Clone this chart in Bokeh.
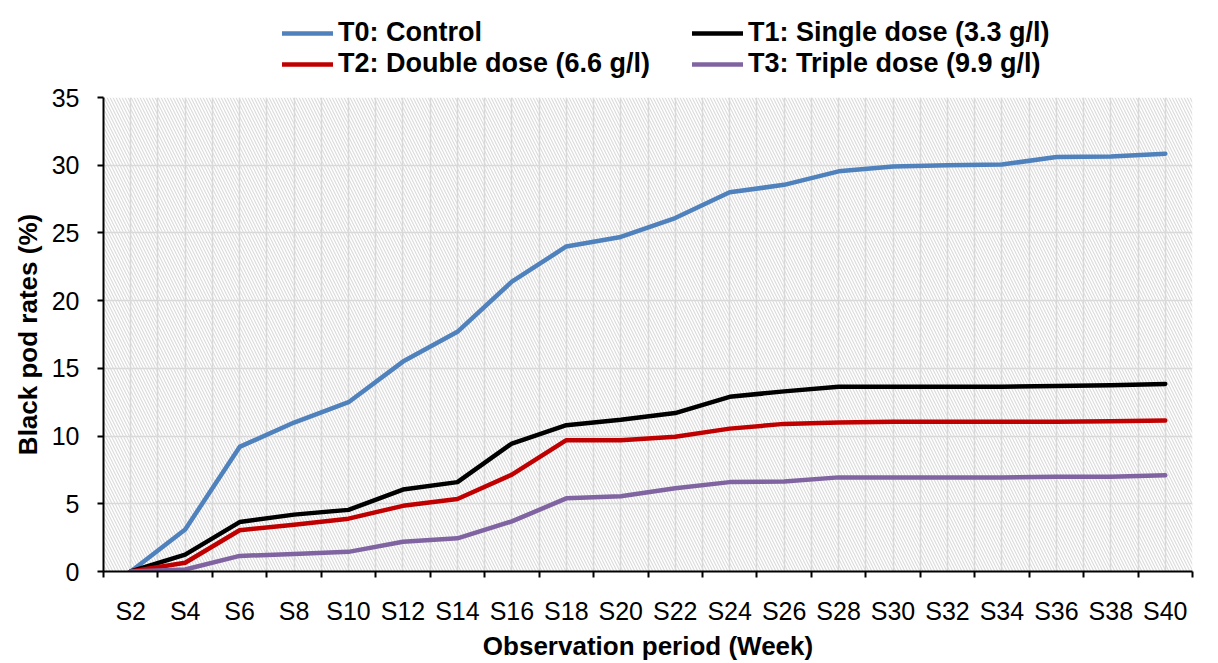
from bokeh.plotting import figure
from bokeh.layouts import column
from bokeh.models import (Range1d, FixedTicker, BoxAnnotation, Legend, LegendItem)
from bokeh.embed import file_html
from bokeh.resources import INLINE

weeks = ["S2", "S4", "S6", "S8", "S10", "S12", "S14", "S16", "S18", "S20",
         "S22", "S24", "S26", "S28", "S30", "S32", "S34", "S36", "S38", "S40"]
t0_control = [0, 3.1, 9.2, 11.0, 12.5, 15.5, 17.7, 21.4, 24.0, 24.7,
              26.1, 28.0, 28.55, 29.55, 29.9, 30.0, 30.05, 30.6, 30.65, 30.85]
t1_single = [0, 1.25, 3.65, 4.2, 4.55, 6.05, 6.6, 9.45, 10.8, 11.2,
             11.7, 12.9, 13.3, 13.65, 13.65, 13.65, 13.65, 13.7, 13.75, 13.85]
t2_double = [0, 0.65, 3.05, 3.45, 3.9, 4.85, 5.35, 7.15, 9.7, 9.7,
             9.95, 10.55, 10.9, 11.0, 11.05, 11.05, 11.05, 11.05, 11.1, 11.15]
t3_triple = [0, 0.15, 1.15, 1.3, 1.45, 2.2, 2.45, 3.7, 5.4, 5.55,
             6.15, 6.6, 6.65, 6.95, 6.95, 6.95, 6.95, 7.0, 7.0, 7.1]

series_names = ["T0: Control", "T1: Single dose (3.3 g/l)",
                "T2: Double dose (6.6 g/l)", "T3: Triple dose (9.9 g/l)"]
series_colors = ["#4F81BD", "#000000", "#C00000", "#8064A2"]
y_ticks = [0, 5, 10, 15, 20, 25, 30, 35]

FONT = "Liberation Sans"
LW = 4.5

n = len(weeks)
xs = [i + 0.5 for i in range(n)]
all_series = [t0_control, t1_single, t2_double, t3_triple]

# ---------------- main chart ----------------
p = figure(width=1218, height=583, output_backend="svg", toolbar_location=None,
           x_range=Range1d(0, n), y_range=Range1d(0, 35),
           min_border_left=103, min_border_right=26, min_border_top=17,
           min_border_bottom=91)
p.background_fill_color = "white"
p.border_fill_color = "white"
p.outline_line_color = None

bg = BoxAnnotation(fill_color="white", fill_alpha=1.0, line_color=None,
                   hatch_pattern="\\", hatch_color="#DCDCDC", hatch_scale=6,
                   hatch_weight=1.2, level="image")
p.add_layout(bg)

p.xaxis.ticker = FixedTicker(ticks=xs, minor_ticks=list(range(n + 1)))
p.xaxis.major_label_overrides = {x: w for x, w in zip(xs, weeks)}
p.xaxis.major_tick_line_color = None
p.xaxis.major_tick_out = 0
p.xaxis.major_tick_in = 0
p.xaxis.minor_tick_line_color = "black"
p.xaxis.minor_tick_line_width = 2
p.xaxis.minor_tick_out = 6
p.xaxis.minor_tick_in = 0
p.xaxis.axis_line_color = "black"
p.xaxis.axis_line_width = 2
p.xaxis.major_label_standoff = 19
p.xaxis.major_label_text_font = FONT
p.xaxis.major_label_text_font_size = "25px"
p.xaxis.major_label_text_color = "black"
p.xaxis.axis_label = "Observation period (Week)"
p.xaxis.axis_label_text_font = FONT
p.xaxis.axis_label_text_font_size = "26px"
p.xaxis.axis_label_text_font_style = "bold"
p.xaxis.axis_label_text_color = "black"
p.xaxis.axis_label_standoff = 3

p.yaxis.ticker = FixedTicker(ticks=y_ticks)
p.yaxis.major_tick_line_color = "black"
p.yaxis.major_tick_line_width = 2
p.yaxis.major_tick_out = 6
p.yaxis.major_tick_in = 0
p.yaxis.minor_tick_line_color = None
p.yaxis.axis_line_color = "black"
p.yaxis.axis_line_width = 2
p.yaxis.major_label_standoff = 18
p.yaxis.major_label_text_font = FONT
p.yaxis.major_label_text_font_size = "25px"
p.yaxis.major_label_text_color = "black"
p.yaxis.axis_label = "Black pod rates (%)"
p.yaxis.axis_label_text_font = FONT
p.yaxis.axis_label_text_font_size = "26px"
p.yaxis.axis_label_text_font_style = "bold"
p.yaxis.axis_label_text_color = "black"
p.yaxis.axis_label_standoff = 6

p.xgrid.grid_line_color = "#D9D9D9"
p.xgrid.grid_line_width = 1.5
p.xgrid.minor_grid_line_color = "#D9D9D9"
p.xgrid.minor_grid_line_width = 1.5
p.ygrid.grid_line_color = "#D9D9D9"
p.ygrid.grid_line_width = 1.5

for vals, col in zip(all_series, series_colors):
    p.line(xs, vals, line_color=col, line_width=LW, line_join="round", line_cap="round")

# ---------------- legend strip ----------------
# (series drawn again here only as legend keys; its y range keeps them out of view)
lf = figure(width=1218, height=80, output_backend="svg", toolbar_location=None,
            x_range=Range1d(0, n), y_range=Range1d(-20, -19),
            x_axis_type=None, y_axis_type=None,
            min_border_left=0, min_border_right=0, min_border_top=0,
            min_border_bottom=0)
lf.outline_line_color = None
lf.grid.visible = False
lf.background_fill_color = "white"
lf.border_fill_color = "white"

key_renderers = [lf.line(xs, vals, line_color=c, line_width=LW, line_cap="round")
                 for vals, c in zip(all_series, series_colors)]

def make_legend(idx, loc):
    items = [LegendItem(label=series_names[i], renderers=[key_renderers[i]]) for i in idx]
    lg = Legend(items=items, location=loc, orientation="vertical",
                padding=0, margin=0, spacing=0, label_height=30, glyph_height=30,
                glyph_width=51, label_standoff=5, border_line_color=None,
                background_fill_alpha=0, label_text_font=FONT,
                label_text_font_size="27px", label_text_font_style="bold",
                label_text_color="black")
    lf.add_layout(lg, "center")

make_legend([0, 2], (179, 1))
make_legend([1, 3], (589, 1))

layout = column(lf, p, spacing=0)
open("out.html", "w").write(file_html(layout, INLINE))
